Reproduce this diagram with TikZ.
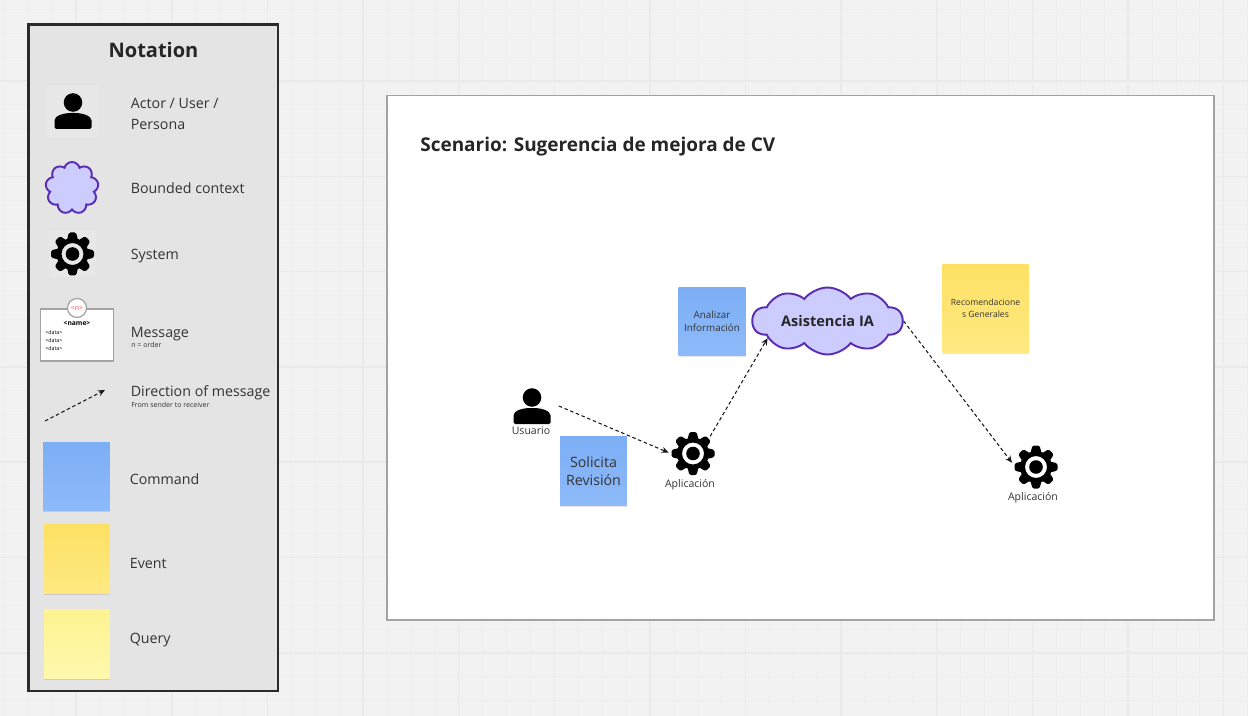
\documentclass[tikz,border=0pt]{standalone}
\usepackage{fontspec}
\setmainfont{Open Sans}
\usetikzlibrary{shapes.symbols,shadows,arrows.meta}
\definecolor{fondo}{HTML}{F2F2F2}
\definecolor{rejilla}{HTML}{EAEAEA}
\definecolor{rejillab}{HTML}{EEEEEE}
\definecolor{panel}{HTML}{E4E4E4}
\definecolor{borde}{HTML}{2B2B2B}
\definecolor{marco}{HTML}{A3A3A3}
\definecolor{nube}{HTML}{CCCCFF}
\definecolor{nubeb}{HTML}{5B2DB3}
\definecolor{texto}{HTML}{333333}
\definecolor{cmdA}{HTML}{7DAEF5}
\definecolor{cmdB}{HTML}{8DBAF9}
\definecolor{evtA}{HTML}{FDE164}
\definecolor{evtB}{HTML}{FFE981}
\definecolor{qryA}{HTML}{FDF391}
\definecolor{qryB}{HTML}{FFF8AE}
\tikzset{
  sticky/.style={minimum width=1.34cm,minimum height=1.38cm,inner sep=1pt,align=center,text=texto,
    drop shadow={shadow xshift=0pt,shadow yshift=-.7pt,opacity=.1,fill=black}},
  commandnote/.style={sticky,top color=cmdA,bottom color=cmdB},
  eventnote/.style={sticky,top color=evtA,bottom color=evtB},
  querynote/.style={sticky,top color=qryA,bottom color=qryB},
  cloudnode/.style={cloud,cloud ignores aspect,draw=nubeb,fill=nube,line width=1.1pt,inner sep=0pt,text=black!85},
  iconbox/.style={minimum size=1.06cm,inner sep=0pt,fill=white,fill opacity=.12},
  geartag/.style={circle,minimum size=.96cm,inner sep=0pt},
  legendtext/.style={anchor=west,inner sep=0pt,text=texto,align=left,font=\fontsize{8.1}{12}\selectfont},
  smalltext/.style={anchor=west,inner sep=0pt,text=texto,font=\fontsize{4}{5}\selectfont},
  icontext/.style={inner sep=0pt,text=texto,font=\fontsize{6}{7}\selectfont},
  dataline/.style={anchor=west,inner sep=0pt,font=\fontsize{3}{4}\selectfont},
  msgarrow/.style={line width=.6pt,dash pattern=on 2pt off 1.5pt,-{Stealth[length=4pt,width=3.5pt]},black!90},
  personicon/.pic={
    \fill (0,-8.5) circle [radius=9.3];
    \fill[rounded corners=.03cm] (-18.5,18) -- (-18.5,11) .. controls (-18.5,5) and (-10,2) .. (0,2)
      .. controls (10,2) and (18.5,5) .. (18.5,11) -- (18.5,18) -- cycle;
  },
  gearicon/.pic={
    \foreach \a in {0,45,...,315}
      \fill[rotate=\a,rounded corners=.03cm] (-5.5,-14) -- (-3.6,-21.5) -- (3.6,-21.5) -- (5.5,-14) -- cycle;
    \fill[even odd rule] (0,0) circle [radius=16] (0,0) circle [radius=11] (0,0) circle [radius=6.8];
  },
}
\begin{document}
\begin{tikzpicture}[x=0.02cm,y=-0.02cm]
  \useasboundingbox (0,0) rectangle (1248,716);
  \fill[fondo] (0,0) rectangle (1248,716);
  % rejilla
  \foreach \x in {0,...,52}
    \draw[rejillab,line width=.5pt] (4.9+23.9*\x,0) -- (4.9+23.9*\x,716);
  \foreach \y in {0,...,29}
    \draw[rejillab,line width=.5pt] (0,9.5+23.83*\y) -- (1248,9.5+23.83*\y);
  \foreach \x in {1,...,13}
    \draw[rejilla,line width=.8pt] (-19.4+95.6*\x,0) -- (-19.4+95.6*\x,716);
  \foreach \y in {0,...,6}
    \draw[rejilla,line width=.8pt] (0,81+95.3*\y) -- (1248,81+95.3*\y);
  % panel
  \draw[borde,line width=1.5pt,fill=panel] (28.5,24.5) rectangle (278,691);
  \node[inner sep=0pt,text=black!85,font=\bfseries\fontsize{11.4}{14}\selectfont] (notation) at (153.5,50) {Notation};
  \node[iconbox] (actorkey) at (73,111) {};
  \pic at (actorkey) {personicon};
  \node[legendtext] (actortext) at (130.5,114) {Actor / User /\\Persona};
  \node[cloudnode,cloud puffs=9,minimum width=1.06cm,minimum height=1.04cm] (cloudkey) at (72,188) {};
  \node[legendtext] (cloudtext) at (130.5,188) {Bounded context};
  \node[iconbox,minimum size=.94cm] (gearkey) at (72.5,254) {};
  \pic at (gearkey) {gearicon};
  \node[legendtext] (geartext) at (130.5,256) {System};
  % tarjeta de mensaje
  \node[draw=marco,fill=white,line width=.7pt,minimum width=1.46cm,minimum height=1.04cm] (msgcard) at (77,335) {};
  \node[circle,draw=marco,fill=white,line width=.7pt,minimum size=.38cm,inner sep=0pt,text=red!70,font=\fontsize{4}{4}\selectfont] (msgorder) at (77,308) {<n>};
  \node[inner sep=0pt,font=\bfseries\fontsize{3.8}{4}\selectfont] (msgname) at (77,323) {<name>};
  \foreach \y/\n in {333/a,341/b,349/c}
    \node[dataline] (msgdata\n) at (45,\y) {<data>};
  \node[legendtext] (msgtext) at (130.5,334.5) {Message};
  \node[smalltext] (msgnote) at (131,344.5) {n = order};
  \coordinate (dirfrom) at (45,421);
  \coordinate (dirto) at (105,390);
  \draw[msgarrow] (dirfrom) -- (dirto);
  \node[legendtext] (dirtext) at (130.5,392.5) {Direction of message};
  \node[smalltext] (dirnote) at (131,404.5) {From sender to receiver};
  \node[commandnote] (commandkey) at (76.5,476.5) {};
  \node[legendtext] (commandtext) at (129.5,479) {Command};
  \node[eventnote,minimum width=1.32cm] (eventkey) at (77,559) {};
  \node[legendtext] (eventtext) at (129.5,563) {Event};
  \node[querynote,minimum width=1.32cm] (querykey) at (77,644) {};
  \node[legendtext] (querytext) at (129.5,640.5) {Query};
  % escenario
  \draw[marco,line width=.8pt,fill=white] (387,95.5) rectangle (1214,620);
  \node[anchor=west,inner sep=0pt,text=black!85,font=\bfseries\fontsize{10.8}{14}\selectfont] (title) at (420,147) {Scenario: Sugerencia de mejora de CV};
  \node[iconbox] (usuario) at (532,406) {};
  \pic at (usuario) {personicon};
  \node[icontext] (usuariotext) at (531,431) {Usuario};
  \node[commandnote,font=\fontsize{8.1}{11}\selectfont] (solicita) at (593.5,471) {Solicita\\[-.5pt]Revisión};
  \node[geartag] (appa) at (693,453.5) {};
  \pic at (appa) {gearicon};
  \node[icontext] (appatext) at (690,485) {Aplicación};
  \node[commandnote,font=\fontsize{5.6}{7.6}\selectfont] (analizar) at (712,321.5) {Analizar\\Información};
  \node[cloudnode,cloud puffs=10,cloud puff arc=105,minimum width=3cm,minimum height=1.34cm,font=\bfseries\fontsize{8.3}{10}\selectfont] (asistencia) at (827.5,321) {Asistencia IA};
  \node[eventnote,minimum width=1.72cm,minimum height=1.78cm,font=\fontsize{4.9}{6.8}\selectfont] (recomienda) at (985.5,308.5) {Recomendacione\\s Generales};
  \node[geartag] (appb) at (1036,467) {};
  \pic at (appb) {gearicon};
  \node[icontext] (appbtext) at (1033,498) {Aplicación};
  \draw[msgarrow] (usuario.east) -- (appa.178);
  \draw[msgarrow] (appa.45) -- (asistencia.196);
  \draw[msgarrow] (asistencia.east) -- (appb.170);
\end{tikzpicture}
\end{document}
